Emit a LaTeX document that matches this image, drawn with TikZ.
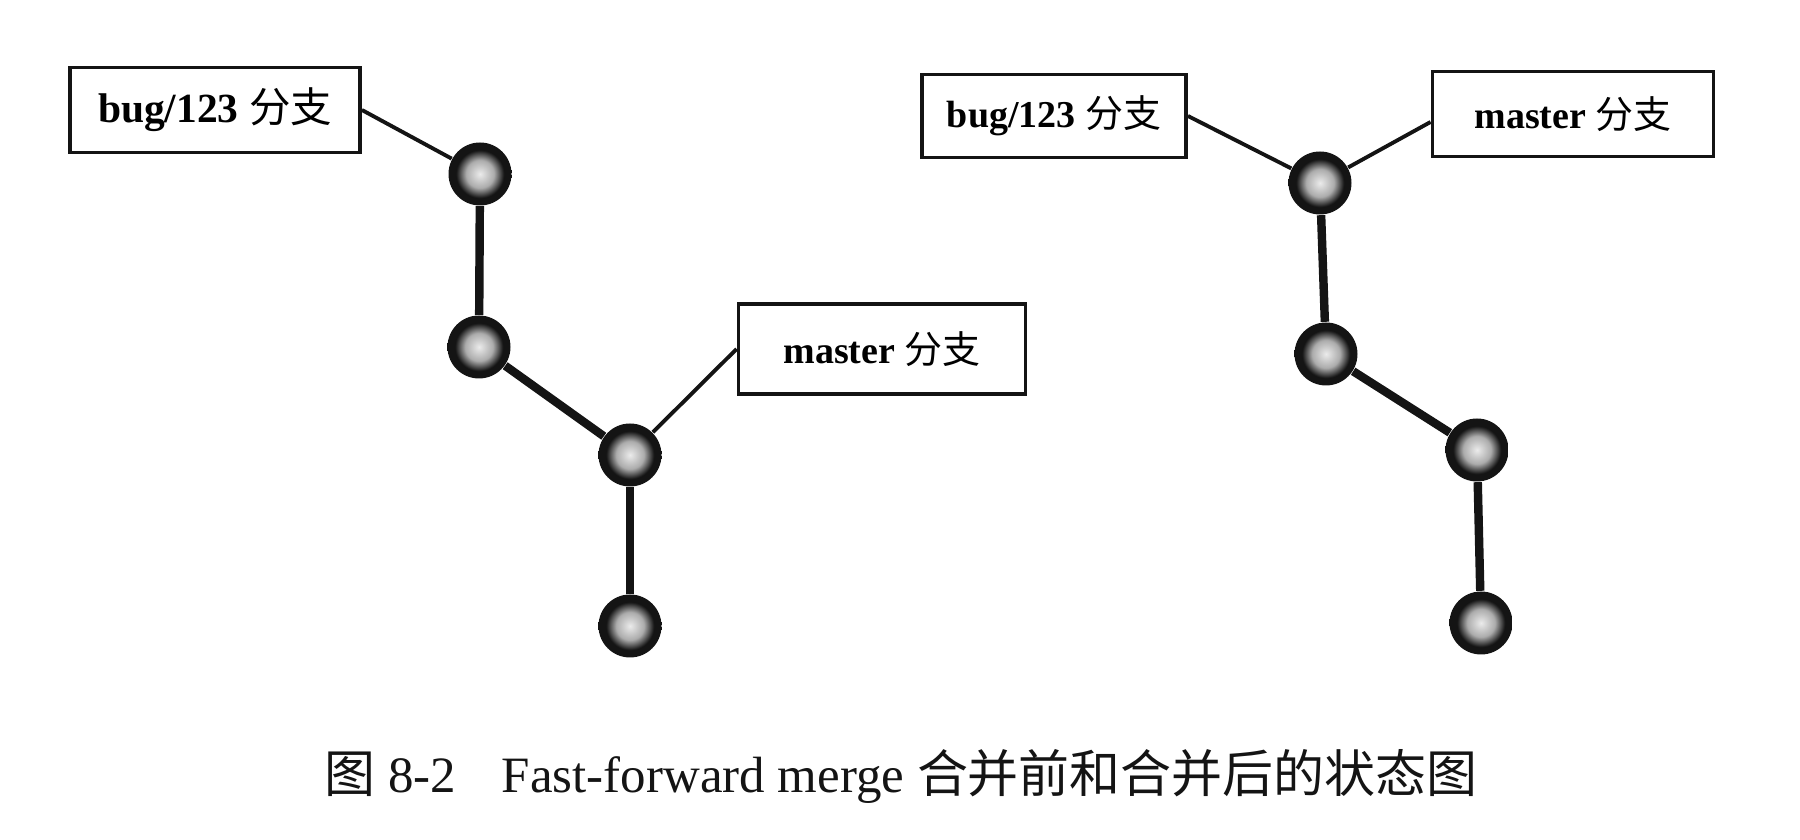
\documentclass[tikz,border=0pt]{standalone}
\usepackage{fontspec}
\setmainfont{Liberation Serif}
\newfontfamily\cjk{Noto Sans CJK SC}
\usepackage{tikz}
\usetikzlibrary{arrows.meta, calc}
\definecolor{inkblack}{RGB}{20, 20, 20}
\definecolor{ballcore}{RGB}{235, 235, 235}
\pgfdeclareradialshading{commitball}{\pgfpoint{0bp}{0bp}}{%
  color(0bp)=(ballcore); color(11bp)=(gray!65); color(19bp)=(inkblack);
  color(25bp)=(inkblack); color(50bp)=(inkblack)}

\begin{document}
\begin{tikzpicture}[
  branchbox/.style={draw=inkblack, line width=1.1pt, fill=white, inner sep=0pt,
    font=\fontsize{10.8}{13}\selectfont\bfseries},
  commit/.style={circle, shading=commitball, minimum size=0.63cm, inner sep=0pt},
  trunk/.style={inkblack, line width=2.4pt},
  pointer/.style={inkblack, line width=1.1pt}
]
\useasboundingbox (0,0) rectangle (18,8.4);

% Before merge
\node[commit] (L1) at (4.80,6.66) {};
\node[commit] (L2) at (4.79,4.93) {};
\node[commit] (L3) at (6.30,3.85) {};
\node[commit] (L4) at (6.30,2.14) {};
\node[branchbox, minimum width=2.90cm, minimum height=0.85cm, font=\fontsize{11.8}{14}\selectfont\bfseries] (bugL) at (2.15,7.30) {bug/123 {\cjk\mdseries 分支}};
\node[branchbox, minimum width=2.87cm, minimum height=0.90cm] (masterL) at (8.82,4.91) {master {\cjk\mdseries 分支}};

\draw[trunk] (L1) -- (L2);
\draw[trunk] (L2) -- (L3);
\draw[trunk] (L3) -- (L4);
\draw[pointer] (bugL.east) -- (L1);
\draw[pointer] (masterL.west) -- (L3);

% After merge
\node[commit] (R1) at (13.20,6.57) {};
\node[commit] (R2) at (13.26,4.86) {};
\node[commit] (R3) at (14.77,3.90) {};
\node[commit] (R4) at (14.81,2.17) {};
\node[branchbox, minimum width=2.64cm, minimum height=0.83cm] (bugR) at (10.54,7.24) {bug/123 {\cjk\mdseries 分支}};
\node[branchbox, minimum width=2.81cm, minimum height=0.85cm] (masterR) at (15.73,7.26) {master {\cjk\mdseries 分支}};

\draw[trunk] (R1) -- (R2);
\draw[trunk] (R2) -- (R3);
\draw[trunk] (R3) -- (R4);
\draw[pointer] (bugR.east) -- (R1);
\draw[pointer] ($(masterR.west)+(0,-0.08)$) -- (R1);

% Caption
\node[anchor=base, font=\fontsize{14.5}{17}\selectfont, inkblack] (caption) at (9.01,0.47)
  {{\cjk 图} 8-2\hspace{0.9em}Fast-forward merge {\cjk 合并前和合并后的状态图}};

\end{tikzpicture}
\end{document}
